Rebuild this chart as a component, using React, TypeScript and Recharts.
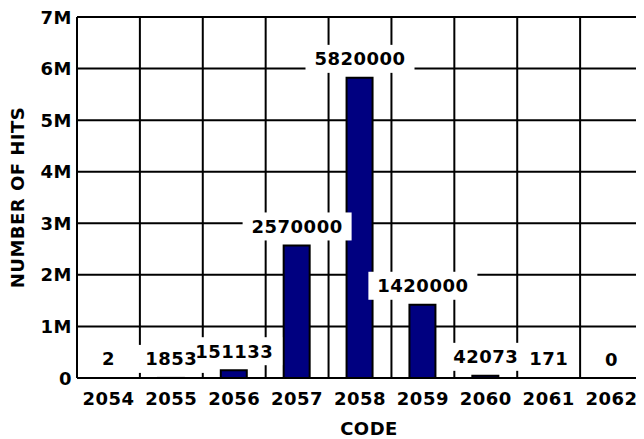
import { ComposedChart, Bar, Line, XAxis, YAxis, CartesianGrid, LabelList, Label } from 'recharts';

const codes = ['2054', '2055', '2056', '2057', '2058', '2059', '2060', '2061', '2062'];
const hits = [2, 1853, 151133, 2570000, 5820000, 1420000, 42073, 171, 0];
const yTicks = [0, 1000000, 2000000, 3000000, 4000000, 5000000, 6000000, 7000000];

const data = codes.map((code, i) => ({ code, hits: hits[i] }));

const FONT = '"DejaVu Sans", Verdana, sans-serif';
const txt = { fontFamily: FONT, fontWeight: 700, fontSize: 18, letterSpacing: 0.5, fill: '#000' } as const;

const fmtY = (v: number) => (v === 0 ? '0' : `${v / 1000000}M`);

function XTick({ x, y, payload }: any) {
  return (
    <text x={x} y={y + 20} textAnchor="middle" dominantBaseline="central" {...txt}>
      {payload.value}
    </text>
  );
}

function YTick({ x, y, payload }: any) {
  return (
    <text x={x - 5} y={y} textAnchor="end" dominantBaseline="central" {...txt}>
      {fmtY(payload.value)}
    </text>
  );
}

// white box behind each value label (drawn first, so boxes never hide other texts)
function LabelBox({ x, y, value }: any) {
  const tw = String(value).length * 13;
  const bottom = y - 5;
  return <rect x={x - tw / 2 - 9} y={bottom - 28} width={tw + 18} height={28} fill="#fff" />;
}

function LabelText({ x, y, value }: any) {
  return (
    <text x={x} y={y - 19} textAnchor="middle" dominantBaseline="central" {...txt}>
      {String(value)}
    </text>
  );
}

export default function App() {
  return (
    <ComposedChart width={636} height={431} data={data}
      margin={{ top: 9, right: 1, left: 0, bottom: 0 }}
      barSize={26}>
      <CartesianGrid stroke="#000" strokeWidth={2}
        verticalCoordinatesGenerator={({ offset }: any) =>
          Array.from({ length: codes.length + 1 }, (_, i) => offset.left + (i * offset.width) / codes.length)
        } />
      <XAxis dataKey="code" height={61} tickLine={false} tickSize={0} tickMargin={0}
        axisLine={{ stroke: '#000', strokeWidth: 2 }} tick={<XTick />} interval={0}>
        <Label content={({ viewBox }: any) => (
          <text x={viewBox.x + viewBox.width / 2 + 9} y={viewBox.y + 50} textAnchor="middle"
            dominantBaseline="central" {...txt}>
            CODE
          </text>
        )} />
      </XAxis>
      <YAxis width={69} domain={[0, 7000000]} ticks={yTicks} tickLine={false} tickSize={0} tickMargin={0}
        axisLine={{ stroke: '#000', strokeWidth: 2 }} tick={<YTick />} interval={0}>
        <Label content={({ viewBox }: any) => {
          const cx = viewBox.x + 9;
          const cy = viewBox.y + viewBox.height / 2;
          return (
            <text x={cx} y={cy} transform={`rotate(-90 ${cx} ${cy})`} textAnchor="middle"
              dominantBaseline="central" {...txt}>
              NUMBER OF HITS
            </text>
          );
        }} />
      </YAxis>
      <Bar dataKey="hits" fill="#000080" stroke="#000" strokeWidth={2} isAnimationActive={false} />
      <Line dataKey="hits" stroke="none" dot={false} activeDot={false} legendType="none" isAnimationActive={false}>
        <LabelList dataKey="hits" content={<LabelBox />} />
        <LabelList dataKey="hits" content={<LabelText />} />
      </Line>
    </ComposedChart>
  );
}
